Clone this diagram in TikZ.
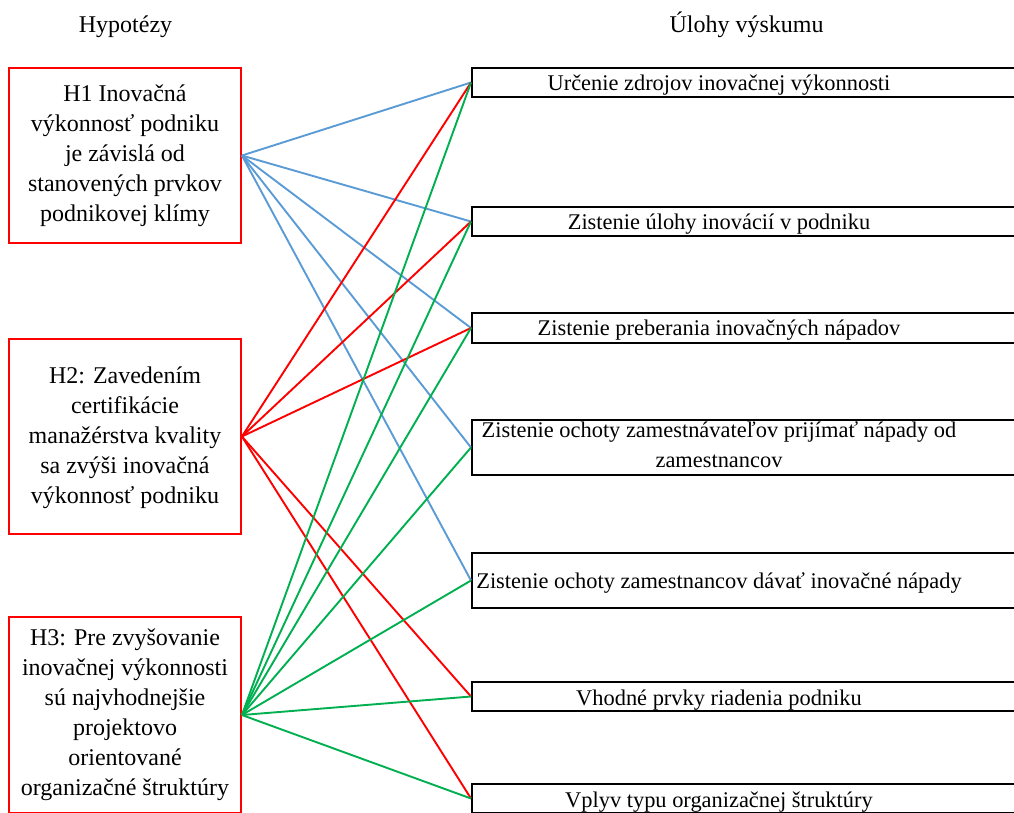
\documentclass[tikz,border=0pt]{standalone}
\usepackage{fontspec}
\setmainfont{Liberation Serif}
\definecolor{linkblue}{HTML}{5B9BD5}
\definecolor{linkred}{HTML}{FF0000}
\definecolor{linkgreen}{HTML}{00B050}
\begin{document}
\begin{tikzpicture}[x=1pt,y=-1pt,
  txt/.style={inner sep=0pt, align=center, font=\fontsize{24}{30}\selectfont,
    execute at begin node=\strut, execute at end node=\strut},
  tasktxt/.style={txt, font=\fontsize{22.4}{30}\selectfont},
  hypbox/.style={draw=linkred, line width=1.8pt, minimum width=232pt, inner sep=0pt},
  taskbox/.style={draw=black, line width=1.8pt, minimum width=600pt, inner sep=0pt, anchor=west},
  link/.style={line width=1.9pt}]
\useasboundingbox (0,0) rectangle (1014,812);
\clip (0,0) rectangle (1014,812);

% column headings
\node[txt] (hhyp) at (125.5,26) {Hypotézy};
\node[txt] (htask) at (746.5,26) {Úlohy výskumu};

% hypotheses
\node[hypbox, minimum height=175pt] (h1) at (125,155.5) {};
\node[hypbox, minimum height=195pt] (h2) at (125,436.5) {};
\node[hypbox, minimum height=196pt] (h3) at (125,715) {};
\node[txt] (t1) at (125,158) {H1 Inovačná\\výkonnosť podniku\\je závislá od\\stanovených prvkov\\podnikovej klímy};
\node[txt] (t2) at (125,440) {H2: Zavedením\\certifikácie\\manažérstva kvality\\sa zvýši inovačná\\výkonnosť podniku};
\node[txt] (t3) at (125,717) {H3: Pre zvyšovanie\\inovačnej výkonnosti\\sú najvhodnejšie\\projektovo\\orientované\\organizačné štruktúry};

% research tasks
\node[taskbox, minimum height=29pt] (r1) at (471,82.5) {};
\node[taskbox, minimum height=29pt] (r2) at (471,221.5) {};
\node[taskbox, minimum height=30pt] (r3) at (471,328) {};
\node[taskbox, minimum height=55pt] (r4) at (471,447.5) {};
\node[taskbox, minimum height=55pt] (r5) at (471,580.5) {};
\node[taskbox, minimum height=29pt] (r6) at (471,696.5) {};
\node[taskbox, minimum height=29pt] (r7) at (471,798.5) {};
\node[tasktxt] (u1) at (719,84) {Určenie zdrojov inovačnej výkonnosti};
\node[tasktxt] (u2) at (719,223) {Zistenie úlohy inovácií v podniku};
\node[tasktxt] (u3) at (719,329) {Zistenie preberania inovačných nápadov};
\node[tasktxt] (u4) at (719,449) {Zistenie ochoty zamestnávateľov prijímať nápady od\\zamestnancov};
\node[tasktxt] (u5) at (719,582) {Zistenie ochoty zamestnancov dávať inovačné nápady};
\node[tasktxt] (u6) at (719,699) {Vhodné prvky riadenia podniku};
\node[tasktxt] (u7) at (719,801) {Vplyv typu organizačnej štruktúry};

% links H1
\foreach \r in {r1,r2,r3,r4,r5}
  \draw[link, linkblue] (h1.east) -- (\r.west);
% links H2
\foreach \r in {r1,r2,r3,r6,r7}
  \draw[link, linkred] (h2.east) -- (\r.west);
% links H3
\foreach \r in {r1,r2,r3,r4,r5,r6,r7}
  \draw[link, linkgreen] (h3.east) -- (\r.west);
\end{tikzpicture}
\end{document}
